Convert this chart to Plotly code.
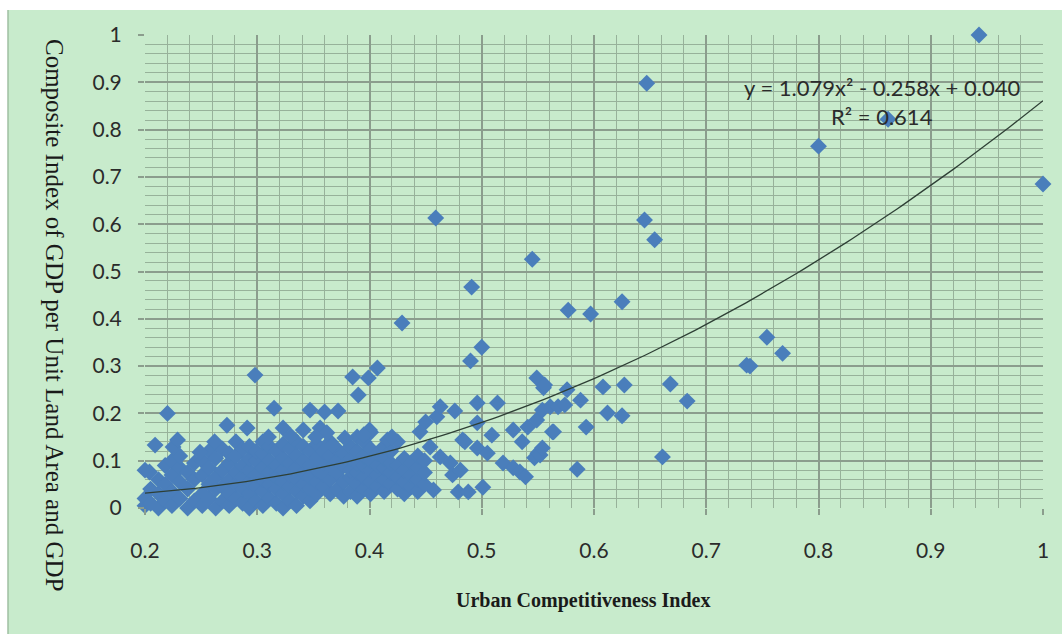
import numpy as np
import plotly.graph_objects as go

# Urban competitiveness index (x) vs composite index of GDP per unit land area and GDP (y)
city_x = [
    # dense low cluster
    0.200, 0.200, 0.200, 0.205, 0.205, 0.212, 0.212, 0.212, 0.218, 0.218, 0.218,
    0.224, 0.224, 0.224, 0.224, 0.231, 0.231, 0.231, 0.231, 0.238, 0.238, 0.238,
    0.244, 0.244, 0.244, 0.251, 0.251, 0.251, 0.251, 0.257, 0.257, 0.257, 0.257,
    0.263, 0.263, 0.263, 0.263, 0.269, 0.269, 0.269, 0.269, 0.275, 0.275, 0.275, 0.275, 0.275,
    0.281, 0.281, 0.281, 0.281, 0.281, 0.287, 0.287, 0.287, 0.287, 0.287,
    0.293, 0.293, 0.293, 0.293, 0.293, 0.293, 0.299, 0.299, 0.299, 0.299, 0.299,
    0.305, 0.305, 0.305, 0.305, 0.305, 0.305, 0.311, 0.311, 0.311, 0.311, 0.311,
    0.317, 0.317, 0.317, 0.317, 0.317, 0.323, 0.323, 0.323, 0.323, 0.323, 0.323,
    0.329, 0.329, 0.329, 0.329, 0.329, 0.335, 0.335, 0.335, 0.335, 0.335, 0.335,
    0.341, 0.341, 0.341, 0.341, 0.341, 0.347, 0.347, 0.347, 0.347, 0.347,
    0.353, 0.353, 0.353, 0.353, 0.353, 0.359, 0.359, 0.359, 0.359,
    0.365, 0.365, 0.365, 0.365, 0.365, 0.371, 0.371, 0.371, 0.371,
    0.377, 0.377, 0.377, 0.377, 0.383, 0.383, 0.383, 0.383, 0.383,
    0.389, 0.389, 0.389, 0.389, 0.389, 0.389, 0.395, 0.395, 0.395, 0.395, 0.395,
    0.401, 0.401, 0.401, 0.401, 0.401, 0.401, 0.407, 0.407, 0.407, 0.407,
    0.413, 0.413, 0.413, 0.413, 0.413, 0.419, 0.419, 0.419, 0.419,
    0.425, 0.425, 0.425, 0.425, 0.431, 0.431, 0.431, 0.431, 0.437, 0.437, 0.437,
    0.443, 0.443, 0.443, 0.443, 0.449, 0.449, 0.449,
    # upper edge of the low cluster
    0.209, 0.204, 0.220, 0.225, 0.229, 0.249, 0.262, 0.273, 0.291, 0.298, 0.315,
    0.323, 0.341, 0.347, 0.356, 0.360, 0.362, 0.367, 0.372,
    0.385, 0.390, 0.399, 0.407, 0.400, 0.416, 0.429, 0.445, 0.450,
    0.310, 0.330, 0.352, 0.378, 0.395, 0.420,
    # middle band
    0.454, 0.457, 0.459, 0.460, 0.463, 0.463, 0.472, 0.474, 0.476, 0.479, 0.481,
    0.483, 0.485, 0.488, 0.490, 0.491, 0.496, 0.496, 0.496, 0.500, 0.501, 0.505,
    0.509, 0.514, 0.519, 0.528, 0.528, 0.534, 0.536, 0.539, 0.541, 0.545, 0.547,
    0.549, 0.549, 0.550, 0.552, 0.554, 0.554, 0.555, 0.556, 0.561, 0.563, 0.564,
    0.568, 0.574, 0.576, 0.577, 0.585, 0.588, 0.593, 0.597, 0.608, 0.612,
    0.625, 0.625, 0.627, 0.645, 0.647, 0.654, 0.661, 0.668, 0.683,
    # high values
    0.736, 0.739, 0.754, 0.768, 0.800, 0.862, 0.943, 1.000,
]

city_y = [
    0.005, 0.020, 0.080, 0.010, 0.040, 0.000, 0.030, 0.060, 0.015, 0.050, 0.090,
    0.005, 0.035, 0.070, 0.100, 0.020, 0.055, 0.085, 0.110, 0.000, 0.040, 0.075,
    0.015, 0.060, 0.095, 0.005, 0.030, 0.070, 0.100, 0.020, 0.050, 0.085, 0.120,
    0.000, 0.040, 0.065, 0.105, 0.015, 0.045, 0.080, 0.125, 0.005, 0.030, 0.060, 0.095, 0.115,
    0.020, 0.050, 0.075, 0.110, 0.140, 0.010, 0.040, 0.065, 0.090, 0.125,
    0.000, 0.030, 0.055, 0.080, 0.105, 0.130, 0.015, 0.045, 0.070, 0.100, 0.120,
    0.005, 0.035, 0.060, 0.085, 0.115, 0.140, 0.020, 0.050, 0.075, 0.100, 0.130,
    0.010, 0.040, 0.065, 0.090, 0.120, 0.000, 0.030, 0.055, 0.080, 0.105, 0.135,
    0.015, 0.045, 0.070, 0.095, 0.125, 0.005, 0.035, 0.060, 0.085, 0.110, 0.140,
    0.025, 0.050, 0.075, 0.100, 0.130, 0.015, 0.040, 0.065, 0.090, 0.120,
    0.030, 0.055, 0.080, 0.105, 0.135, 0.045, 0.070, 0.095, 0.120,
    0.030, 0.060, 0.085, 0.110, 0.140, 0.040, 0.075, 0.100, 0.125,
    0.025, 0.055, 0.090, 0.115, 0.035, 0.065, 0.080, 0.105, 0.130,
    0.025, 0.050, 0.075, 0.095, 0.120, 0.150, 0.040, 0.065, 0.090, 0.110, 0.140,
    0.030, 0.055, 0.080, 0.100, 0.125, 0.160, 0.045, 0.070, 0.090, 0.115,
    0.035, 0.060, 0.085, 0.105, 0.130, 0.050, 0.075, 0.095, 0.120,
    0.040, 0.065, 0.090, 0.140, 0.030, 0.055, 0.080, 0.105, 0.045, 0.070, 0.095,
    0.035, 0.060, 0.085, 0.110, 0.050, 0.075, 0.100,
    0.133, 0.076, 0.200, 0.129, 0.144, 0.118, 0.140, 0.175, 0.169, 0.281, 0.211,
    0.169, 0.165, 0.207, 0.169, 0.203, 0.159, 0.133, 0.205,
    0.277, 0.239, 0.275, 0.296, 0.165, 0.144, 0.391, 0.161, 0.182,
    0.150, 0.152, 0.150, 0.148, 0.155, 0.150,
    0.129, 0.038, 0.613, 0.193, 0.214, 0.108, 0.095, 0.070, 0.205, 0.034, 0.080,
    0.144, 0.140, 0.034, 0.311, 0.467, 0.222, 0.180, 0.127, 0.340, 0.044, 0.116,
    0.154, 0.222, 0.095, 0.165, 0.085, 0.076, 0.140, 0.066, 0.171, 0.526, 0.106,
    0.186, 0.275, 0.116, 0.112, 0.127, 0.207, 0.254, 0.260, 0.214, 0.161, 0.161,
    0.214, 0.218, 0.250, 0.418, 0.082, 0.228, 0.171, 0.410, 0.256, 0.201,
    0.195, 0.436, 0.260, 0.609, 0.898, 0.567, 0.108, 0.262, 0.226,
    0.302, 0.300, 0.361, 0.327, 0.765, 0.822, 1.000, 0.685,
]

# Quadratic trend line reported for the data
trend_a, trend_b, trend_c = 1.079, -0.258, 0.040
trend_x = np.linspace(0.2, 1.0, 161)
trend_y = trend_a * trend_x ** 2 + trend_b * trend_x + trend_c

x_ticks = [0.2, 0.3, 0.4, 0.5, 0.6, 0.7, 0.8, 0.9, 1.0]
x_tick_text = ["0.2", "0.3", "0.4", "0.5", "0.6", "0.7", "0.8", "0.9", "1"]
y_ticks = [0, 0.1, 0.2, 0.3, 0.4, 0.5, 0.6, 0.7, 0.8, 0.9, 1.0]
y_tick_text = ["0", "0.1", "0.2", "0.3", "0.4", "0.5", "0.6", "0.7", "0.8", "0.9", "1"]

BG = "#c8ebcc"
MAJOR = "#8b9d8d"
MINOR = "#97b29a"
TICK_FONT = dict(family="Lato, Open Sans, sans-serif", size=21, color="#2b2b2b")
LABEL_FONT = dict(family="Lato, Open Sans, sans-serif", size=22, color="#2b2b2b")

fig = go.Figure()

fig.add_trace(go.Scatter(
    x=city_x, y=city_y, mode="markers",
    marker=dict(symbol="diamond", size=13, color="#4a7ebb", line=dict(width=0)),
    cliponaxis=False, showlegend=False, hoverinfo="x+y",
))

fig.add_trace(go.Scatter(
    x=trend_x, y=trend_y, mode="lines",
    line=dict(color="#2e3f35", width=1.3),
    showlegend=False, hoverinfo="skip",
))

axis_common = dict(
    showline=False, zeroline=False, showgrid=True,
    gridcolor=MAJOR, gridwidth=1.5,
    ticks="outside", ticklen=6, tickcolor=MAJOR, tickwidth=1.5,
    tickfont=TICK_FONT,
    minor=dict(dtick=0.02, showgrid=True, gridcolor=MINOR, gridwidth=1, ticks=""),
)

fig.update_xaxes(
    range=[0.2, 1.0], tickvals=x_ticks, ticktext=x_tick_text,
    ticklabelstandoff=18, **axis_common,
)
fig.update_yaxes(
    range=[0, 1.0], tickvals=y_ticks, ticktext=y_tick_text,
    ticklabelstandoff=12, **axis_common,
)

# white strips around the green chart panel
fig.add_shape(type="rect", xref="paper", yref="paper",
              x0=-0.3, x1=1.1, y0=(508 - 10) / 473, y1=1.2,
              fillcolor="white", line=dict(width=0), layer="above")
fig.add_shape(type="rect", xref="paper", yref="paper",
              x0=-0.3, x1=(8 - 145) / 898, y0=-0.4, y1=1.2,
              fillcolor="white", line=dict(width=0), layer="above")
fig.add_shape(type="line", xref="paper", yref="paper",
              x0=(8 - 145) / 898, x1=(8 - 145) / 898,
              y0=(508 - 634) / 473, y1=(508 - 10) / 473,
              line=dict(color="#9fbfa2", width=1.5), layer="above")

fig.add_annotation(
    text="y = 1.079x² - 0.258x + 0.040", xref="x", yref="y",
    x=0.857, y=0.888, showarrow=False, font=LABEL_FONT,
)
fig.add_annotation(
    text="R² = 0.614", xref="x", yref="y",
    x=0.857, y=0.827, showarrow=False, font=LABEL_FONT,
)

fig.add_annotation(
    text="<b>Urban Competitiveness Index</b>", xref="paper", yref="paper",
    x=(583 - 145) / 898, y=(508 - 600) / 473, showarrow=False,
    xanchor="center", yanchor="middle",
    font=dict(family="Liberation Serif, Times New Roman, serif", size=20, color="#1a1a1a"),
)
fig.add_annotation(
    text="Composite Index of GDP per Unit Land Area and GDP", xref="paper", yref="paper",
    x=(55 - 145) / 898, y=(508 - 315) / 473, showarrow=False, textangle=90,
    xanchor="center", yanchor="middle",
    font=dict(family="Liberation Serif, Times New Roman, serif", size=25, color="#1a1a1a"),
)

fig.update_layout(
    width=1062, height=634,
    margin=dict(l=145, r=19, t=35, b=126),
    paper_bgcolor=BG, plot_bgcolor=BG,
    showlegend=False,
)

fig.write_html("out.html")
